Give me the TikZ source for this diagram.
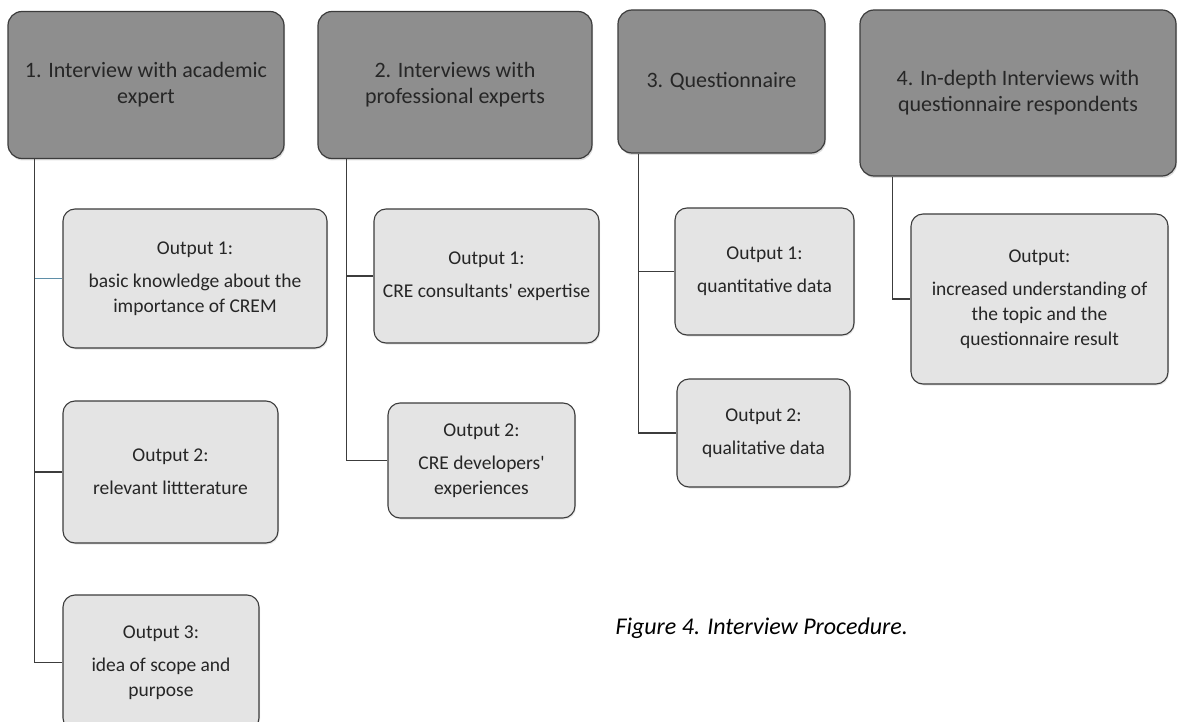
\documentclass[tikz,border=0pt]{standalone}
\usepackage{fontspec}
\setmainfont{Carlito}
\usetikzlibrary{shadows}

\definecolor{headgray}{HTML}{8E8E8E}
\definecolor{outgray}{HTML}{E4E4E4}
\definecolor{edgegray}{HTML}{3C3C3C}
\definecolor{textgray}{HTML}{262626}
\definecolor{linkblue}{HTML}{5F8FA8}

\tikzset{
	phase/.style={draw=edgegray,line width=1.2pt,fill=headgray,rounded corners=14pt,
		align=center,text=textgray,inner sep=0pt,font=\fontsize{22}{26}\selectfont,
		drop shadow={opacity=0.25,shadow xshift=1pt,shadow yshift=-2pt}},
	outbox/.style={draw=edgegray,line width=1.1pt,fill=outgray,rounded corners=12pt,
		align=center,text=textgray,inner sep=0pt,font=\fontsize{19.5}{25}\selectfont,
		drop shadow={opacity=0.2,shadow xshift=1pt,shadow yshift=-1.5pt}},
	link/.style={draw=edgegray,line width=1.1pt},
	bluelink/.style={draw=linkblue,line width=1pt}
}

\begin{document}
\begin{tikzpicture}[x=1pt,y=-1pt]
	\useasboundingbox (0,0) rectangle (1178,722);
	\clip (0,0) rectangle (1178,722); % Clips the picture...

	% the four steps
	\node[phase,minimum width=276pt,minimum height=147pt] (step1) at (146,85) {1. Interview with academic\\expert};
	\node[phase,minimum width=274pt,minimum height=147pt] (step2) at (455,85) {2. Interviews with\\professional experts};
	\node[phase,minimum width=207pt,minimum height=143pt] (step3) at (721.5,81.5) {3. Questionnaire};
	\node[phase,minimum width=316pt,minimum height=166pt] (step4) at (1018,93) {4. In-depth Interviews with\\questionnaire respondents};

	% outputs of each step
	\node[outbox,minimum width=264pt,minimum height=139pt] (out11) at (195,278.5) {Output 1:\\[8pt]basic knowledge about the\\importance of CREM};
	\node[outbox,minimum width=215pt,minimum height=142pt] (out12) at (170.5,472) {Output 2:\\[8pt]relevant littterature};
	\node[outbox,minimum width=196pt,minimum height=135pt] (out13) at (161,662.5) {Output 3:\\[8pt]idea of scope and\\purpose};
	\node[outbox,minimum width=225pt,minimum height=134pt] (out21) at (486.5,276) {Output 1:\\[8pt]CRE consultants\textquotesingle{} expertise};
	\node[outbox,minimum width=187pt,minimum height=115pt] (out22) at (481.5,460.5) {Output 2:\\[8pt]CRE developers\textquotesingle\\experiences};
	\node[outbox,minimum width=179pt,minimum height=127pt] (out31) at (764.5,271.5) {Output 1:\\[8pt]quantitative data};
	\node[outbox,minimum width=173pt,minimum height=108pt] (out32) at (763.5,433) {Output 2:\\[8pt]qualitative data};
	\node[outbox,minimum width=257pt,minimum height=170pt] (out4) at (1039.5,299) {Output:\\[8pt]increased understanding of\\the topic and the\\questionnaire result};

	% trunks under the steps
	\coordinate (Trunk1) at ([xshift=27pt]step1.south west);
	\coordinate (Trunk2) at ([xshift=29pt]step2.south west);
	\coordinate (Trunk3) at ([xshift=21pt]step3.south west);
	\coordinate (Trunk4) at ([xshift=33pt]step4.south west);

	\draw[bluelink] (Trunk1 |- out11.west) -- (out11.west);
	\draw[link] (Trunk1) |- (out12.west);
	\draw[link] (Trunk1) |- (out13.west);
	\draw[link] (Trunk2) |- (out21.west);
	\draw[link] (Trunk2) |- (out22.west);
	\draw[link] (Trunk3) |- (out31.west);
	\draw[link] (Trunk3) |- (out32.west);
	\draw[link] (Trunk4) |- (out4.west);

	\node[anchor=base west,text=black,font=\fontsize{24}{28}\selectfont\itshape] (caption) at (612,634) {Figure 4. Interview Procedure.};
\end{tikzpicture}
\end{document}
